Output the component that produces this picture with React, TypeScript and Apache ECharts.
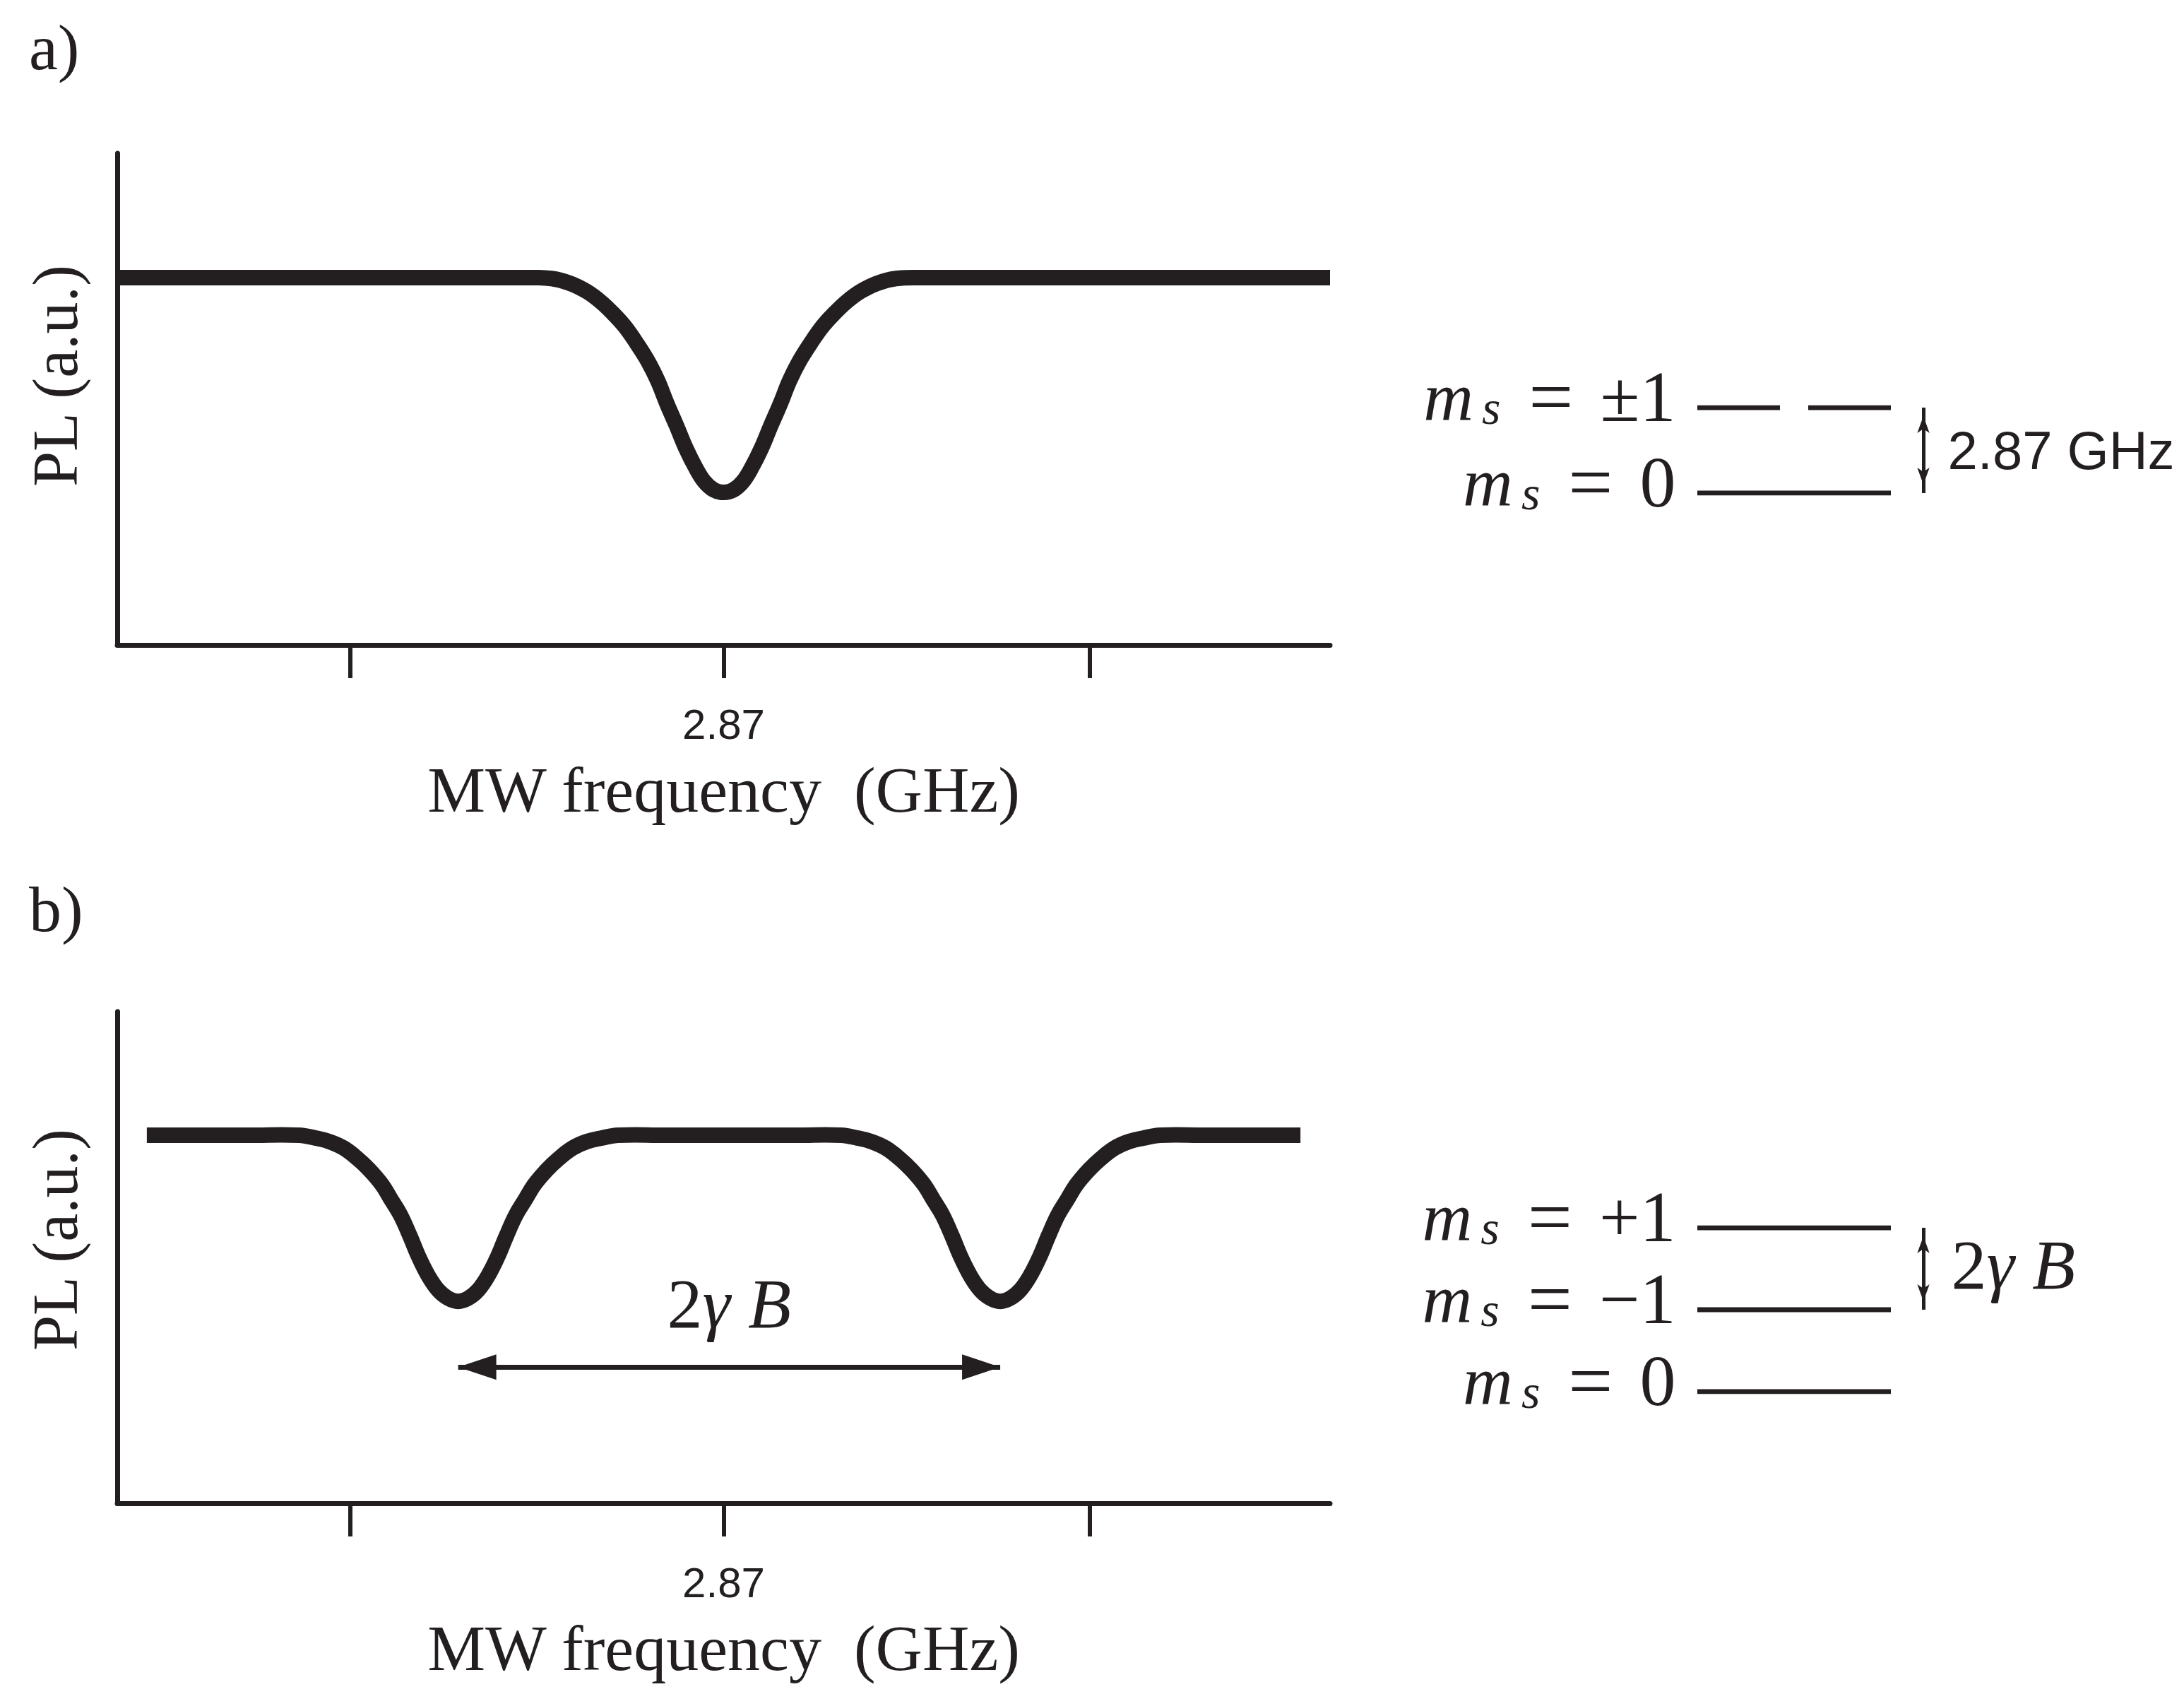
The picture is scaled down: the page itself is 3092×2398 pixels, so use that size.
import React, { useEffect, useRef } from 'react';
import * as echarts from 'echarts';

// ---------- data ----------
const xTicks = [2.8195, 2.87, 2.9195];
const xTickLabels = [2.87];
const xMin = 2.788;
const xMax = 2.952;

// panel a) zero field: single resonance at 2.87 GHz
const freqA = [2.788, 2.81, 2.83, 2.8429, 2.8467, 2.8493, 2.8515, 2.8534, 2.855, 2.8566, 2.8582, 2.8598, 2.8611, 2.8623, 2.8636, 2.8649, 2.8662, 2.8674, 2.8687, 2.87, 2.8713, 2.8726, 2.8738, 2.8751, 2.8764, 2.8777, 2.8789, 2.8802, 2.8818, 2.8834, 2.885, 2.8866, 2.8885, 2.8907, 2.8933, 2.8971, 2.91, 2.93, 2.952];
const plA = [0.747, 0.747, 0.747, 0.7471, 0.7453, 0.7352, 0.7188, 0.6978, 0.6749, 0.6484, 0.6145, 0.5761, 0.5369, 0.4918, 0.4468, 0.3999, 0.361, 0.3323, 0.3151, 0.3103, 0.3151, 0.3323, 0.361, 0.3999, 0.4468, 0.4918, 0.5369, 0.5761, 0.6145, 0.6484, 0.6749, 0.6978, 0.7188, 0.7352, 0.7453, 0.7471, 0.747, 0.747, 0.747];

// panel b) with field: two resonances split by 2γB
const freqB = [2.792, 2.8, 2.806,
  2.8126, 2.8148, 2.8167, 2.8186, 2.8205, 2.8221, 2.8238, 2.825, 2.8263, 2.8276, 2.8288, 2.8301, 2.8314, 2.8327, 2.8341,
  2.8355, 2.8368, 2.8381, 2.8394, 2.8406, 2.8419, 2.8432, 2.8444, 2.8461, 2.8477, 2.8496, 2.8515, 2.8535, 2.8557,
  2.862, 2.871, 2.88,
  2.8859, 2.8881, 2.89, 2.8919, 2.8938, 2.8954, 2.8971, 2.8983, 2.8996, 2.9009, 2.9021, 2.9034, 2.9047, 2.906, 2.9074,
  2.9088, 2.9101, 2.9114, 2.9127, 2.9139, 2.9152, 2.9165, 2.9177, 2.9194, 2.921, 2.9229, 2.9248, 2.9268, 2.929,
  2.935, 2.942, 2.948];
const plB = [0.7486, 0.7486, 0.7486,
  0.7486, 0.7428, 0.7356, 0.7227, 0.7011, 0.6782, 0.648, 0.6185, 0.5862, 0.5431, 0.5, 0.4616, 0.4335, 0.4174, 0.4106,
  0.4174, 0.4335, 0.4616, 0.5, 0.5431, 0.5862, 0.6185, 0.648, 0.6782, 0.7011, 0.7227, 0.7356, 0.7428, 0.7486,
  0.7486, 0.7486, 0.7486,
  0.7486, 0.7428, 0.7356, 0.7227, 0.7011, 0.6782, 0.648, 0.6185, 0.5862, 0.5431, 0.5, 0.4616, 0.4335, 0.4174, 0.4106,
  0.4174, 0.4335, 0.4616, 0.5, 0.5431, 0.5862, 0.6185, 0.648, 0.6782, 0.7011, 0.7227, 0.7356, 0.7428, 0.7486,
  0.7486, 0.7486, 0.7486];
const dipCentersB = [2.8341, 2.9074];
const splitArrowPL = 0.277;

// energy level schematics
const levelsA = [
  { ms: '0', energy: 0, dashed: false },
  { ms: '±1', energy: 2.87, dashed: true },
];
const splitLabelA = '2.87 GHz';
const levelsB = [
  { ms: '0', energy: 0 },
  { ms: '−1', energy: 1 },
  { ms: '+1', energy: 2 },
];
const levelArrowX = 1.168;

// ---------- style ----------
const INK = '#231f20';
const SERIF = '"Liberation Serif", "Times New Roman", serif';
const SANS = '"Liberation Sans", Arial, sans-serif';
const TRANSPARENT = 'rgba(0,0,0,0)';

const levelRich = {
  m: { fontFamily: SERIF, fontStyle: 'italic', fontSize: 98, lineHeight: 100, color: INK },
  s: { fontFamily: SERIF, fontStyle: 'italic', fontSize: 68, lineHeight: 52, verticalAlign: 'bottom', padding: [0, 0, 0, 12], color: INK },
  eq: { fontFamily: SERIF, fontSize: 112, lineHeight: 100, padding: [0, 38, 0, 40], color: INK },
  v: { fontFamily: SERIF, fontSize: 102, lineHeight: 100, color: INK },
};
const gammaRich = {
  n: { fontFamily: SERIF, fontSize: 100, lineHeight: 100, color: INK },
  g: { fontFamily: SERIF, fontStyle: 'italic', fontSize: 100, lineHeight: 100, color: INK },
};

function plotX(gridIndex: number) {
  return {
    type: 'value', gridIndex, min: xMin, max: xMax,
    name: 'MW frequency\u00a0 (GHz)', nameLocation: 'middle', nameGap: 159,
    nameTextStyle: { fontFamily: SERIF, fontSize: 92, color: INK },
    axisLine: { show: true, onZero: false, lineStyle: { color: INK, width: 7 } },
    axisTick: { show: true, customValues: xTicks, length: 47, lineStyle: { color: INK, width: 6 } },
    axisLabel: { show: true, customValues: xTickLabels, margin: 82, fontFamily: SANS, fontSize: 60, color: INK, formatter: (v: number) => v.toFixed(2) },
    splitLine: { show: false },
  };
}
function plotY(gridIndex: number) {
  return {
    type: 'value', gridIndex, min: 0, max: 1,
    axisLine: { show: true, onZero: false, lineStyle: { color: INK, width: 7 } },
    axisTick: { show: false }, axisLabel: { show: false }, splitLine: { show: false },
  };
}
function hiddenAxis(gridIndex: number, min: number, max: number) {
  return { type: 'value', gridIndex, min, max, show: false, splitLine: { show: false } };
}

// thick PL trace: the measured points are mapped through the axes (api.coord)
// and joined by a smooth spline.
function curve(idx: number, xs: number[], ys: number[]) {
  return {
    type: 'custom', coordinateSystem: 'cartesian2d', xAxisIndex: idx, yAxisIndex: idx, silent: true,
    data: [[xs[0], ys[0]]],
    renderItem: (_params: any, api: any) => ({
      type: 'polyline',
      shape: { points: xs.map((x, i) => api.coord([x, ys[i]])), smooth: 0.4 },
      style: { stroke: INK, fill: 'none', lineWidth: 22, lineJoin: 'round', lineCap: 'butt' },
    }),
  };
}

function levelSeries(idx: number, levels: { ms: string; energy: number; dashed?: boolean }[]) {
  const out: any[] = levels.map((l) => ({
    type: 'line', xAxisIndex: idx, yAxisIndex: idx, symbol: 'none', silent: true,
    data: [[0, l.energy], [1, l.energy]],
    lineStyle: { color: INK, width: 7, type: l.dashed ? [117, 40] : 'solid', cap: 'butt' },
  }));
  out.push({
    type: 'scatter', xAxisIndex: idx, yAxisIndex: idx, symbolSize: 1, silent: true,
    itemStyle: { color: TRANSPARENT, opacity: 1 },
    data: levels.map((l) => ({ value: [0, l.energy], ms: l.ms })),
    label: {
      show: true, position: 'left', distance: 30, offset: [0, -16], opacity: 1,
      formatter: (p: any) => `{m|m}{s|s}{eq|=}{v|${p.data.ms}}`,
      rich: levelRich,
    },
  });
  return out;
}

function levelArrow(idx: number, e0: number, e1: number, label: any) {
  return {
    type: 'scatter', xAxisIndex: idx, yAxisIndex: idx, symbolSize: 1, silent: true,
    itemStyle: { color: TRANSPARENT, opacity: 1 },
    data: [{ value: [levelArrowX, (e0 + e1) / 2] }],
    label: { ...label, opacity: 1 },
    markLine: {
      silent: true, animation: false,
      symbol: ['arrow', 'arrow'],
      symbolSize: [13, 24],
      symbolOffset: [[0, 12], [0, 12]],
      itemStyle: { color: INK },
      lineStyle: { type: 'solid', color: INK, width: 5, opacity: 1 },
      label: { show: false },
      emphasis: { disabled: true },
      data: [[{ coord: [levelArrowX, e0] }, { coord: [levelArrowX, e1] }]],
    },
  };
}

export default function App() {
  const ref = useRef<HTMLDivElement>(null);
  useEffect(() => {
    if (!ref.current) return;
    const chart = echarts.init(ref.current, null, { renderer: 'svg' });
    const option: any = {
      animation: false,
      backgroundColor: '#ffffff',
      grid: [
        { left: 166, top: 217, width: 1717, height: 696 },
        { left: 166, top: 1432, width: 1717, height: 696 },
        { left: 2403, top: 577, width: 328.8, height: 121 },
        { left: 2403, top: 1738, width: 328.8, height: 232 },
      ],
      xAxis: [plotX(0), plotX(1), hiddenAxis(2, 0, 1.2), hiddenAxis(3, 0, 1.2)],
      yAxis: [plotY(0), plotY(1), hiddenAxis(2, 0, 2.87), hiddenAxis(3, 0, 2)],
      series: [
        curve(0, freqA, plA),
        curve(1, freqB, plB),
        {
          type: 'scatter', xAxisIndex: 1, yAxisIndex: 1, symbolSize: 1, silent: true,
          itemStyle: { color: TRANSPARENT, opacity: 1 },
          data: [[dipCentersB[0], splitArrowPL]],
          markLine: {
            silent: true, animation: false,
            symbol: ['triangle', 'triangle'],
            symbolSize: [36, 54],
            symbolOffset: [[0, 27], [0, 27]],
            itemStyle: { color: INK },
            lineStyle: { type: 'solid', color: INK, width: 7, opacity: 1 },
            emphasis: { disabled: true },
            label: {
              show: true, position: 'middle', distance: 40,
              formatter: '{n|2}{g|γ B}', rich: gammaRich,
            },
            data: [[{ coord: [dipCentersB[0], splitArrowPL] }, { coord: [dipCentersB[1], splitArrowPL] }]],
          },
        },
        ...levelSeries(2, levelsA),
        levelArrow(2, levelsA[0].energy, levelsA[1].energy, {
          show: true, position: 'right', distance: 34, formatter: splitLabelA,
          fontFamily: SANS, fontSize: 76, color: INK,
        }),
        ...levelSeries(3, levelsB),
        levelArrow(3, levelsB[1].energy, levelsB[2].energy, {
          show: true, position: 'right', distance: 39, offset: [0, -6],
          formatter: '{n|2}{g|γ B}', rich: gammaRich,
        }),
      ],
      graphic: [
        { type: 'text', x: 41, y: 67, style: { text: 'a)', fontFamily: SERIF, fontSize: 92, fill: INK, align: 'left', verticalAlign: 'middle' } },
        { type: 'text', x: 41, y: 1287, style: { text: 'b)', fontFamily: SERIF, fontSize: 92, fill: INK, align: 'left', verticalAlign: 'middle' } },
        { type: 'text', x: 78, y: 532, rotation: Math.PI / 2, style: { text: 'PL (a.u.)', fontFamily: SERIF, fontSize: 90, fill: INK, align: 'center', verticalAlign: 'middle' } },
        { type: 'text', x: 78, y: 1755, rotation: Math.PI / 2, style: { text: 'PL (a.u.)', fontFamily: SERIF, fontSize: 90, fill: INK, align: 'center', verticalAlign: 'middle' } },
      ],
    };
    chart.setOption(option);
    return () => chart.dispose();
  }, []);
  return <div ref={ref} style={{ position: 'absolute', left: 0, top: 0, width: 3092, height: 2398, background: '#fff' }} />;
}
